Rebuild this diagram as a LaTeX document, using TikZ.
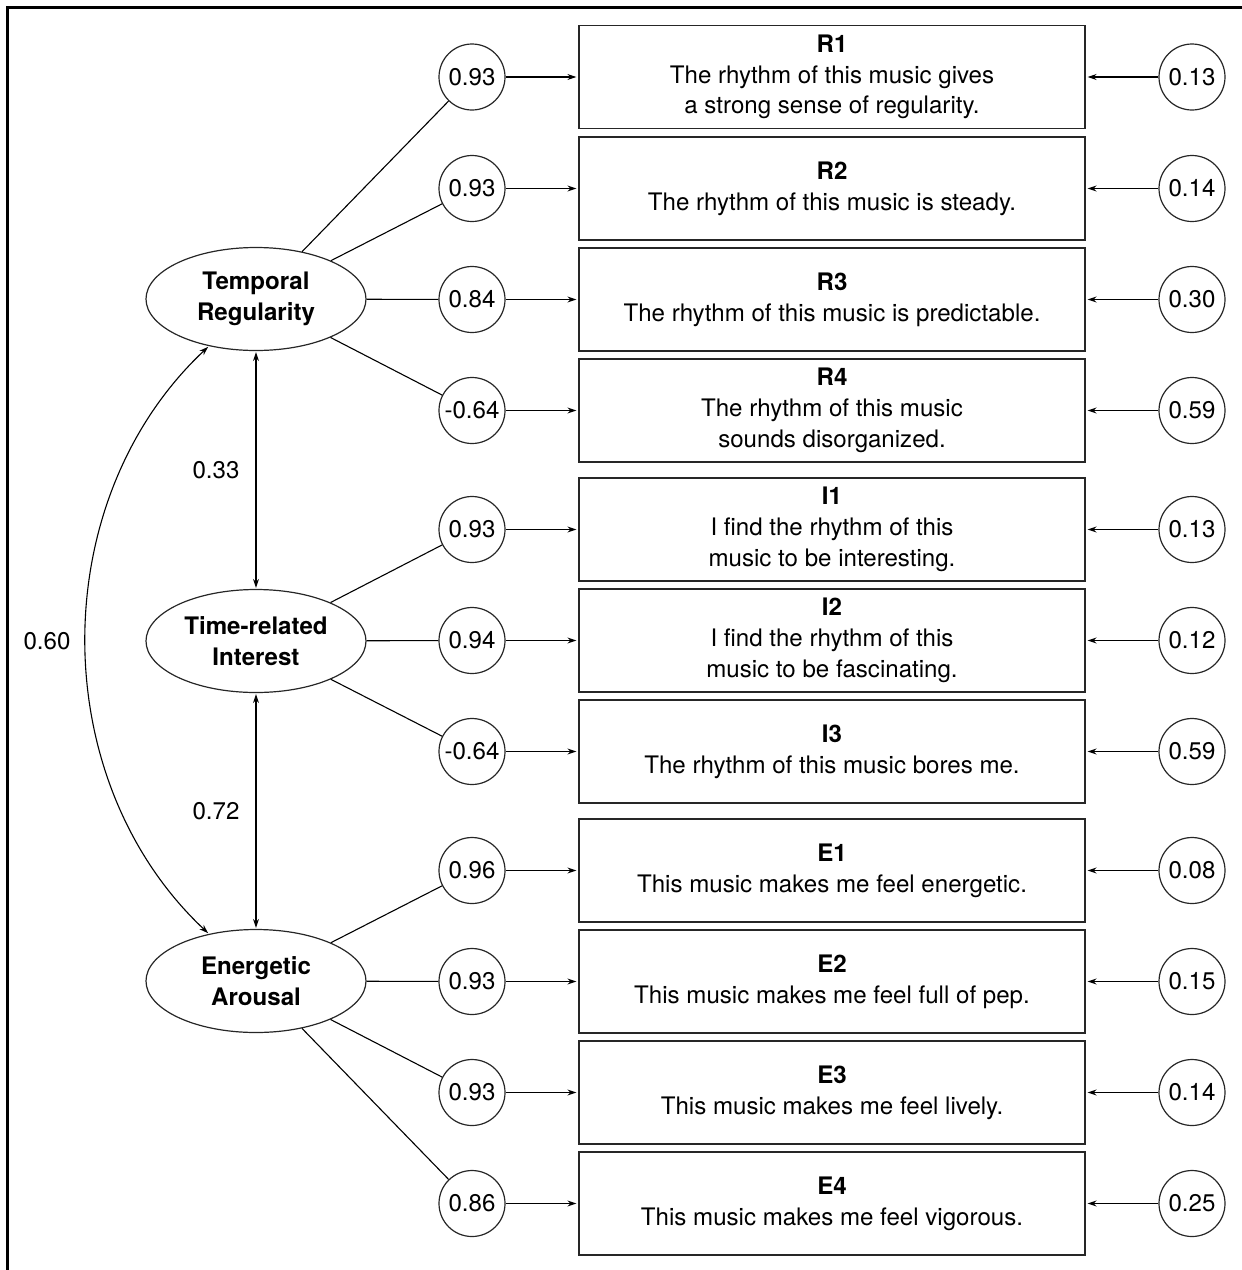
\documentclass[tikz,border=0pt]{standalone}
\usepackage{fontspec}
\setmainfont{TeX Gyre Heros}
\usetikzlibrary{shapes.geometric,arrows.meta}
\begin{document}
\begin{tikzpicture}[x=1pt,y=-1pt,
  every node/.style={font=\fontsize{24.1}{30.7}\selectfont},
  item/.style={draw=black!85, line width=1.3pt, minimum width=506pt, minimum height=103pt, align=center, inner sep=0pt},
  err/.style={draw=black!85, circle, line width=1.2pt, minimum size=66pt, inner sep=0pt},
  latent/.style={draw=black!85, ellipse, line width=1.2pt, minimum width=220pt, minimum height=103pt, inner sep=0pt, align=center, font=\fontsize{24.1}{30.7}\selectfont\bfseries},
  link/.style={line width=1.1pt},
  arr/.style={line width=1.1pt, -{Stealth[length=9pt,width=6pt]}, shorten >=2pt},
  darr/.style={line width=1.1pt, {Stealth[length=9pt,width=6pt]}-{Stealth[length=9pt,width=6pt]}, shorten >=1pt, shorten <=1pt},
  lbl/.style={inner sep=0pt}
]
\useasboundingbox (0,0) rectangle (1242,1270);
\draw[line width=2.4pt] (7.5,1270) -- (7.5,7.5) -- (1242,7.5);

% latent variables
\node[latent] (tr) at (256,299) {Temporal\\Regularity};
\node[latent] (ti) at (256,641) {Time-related\\Interest};
\node[latent] (ea) at (256,981) {Energetic\\Arousal};

% items
\node[item] (R1) at (832,77) {\textbf{R1}\\The rhythm of this music gives\\a strong sense of regularity.};
\node[item] (R2) at (832,188.5) {\textbf{R2}\\The rhythm of this music is steady.};
\node[item] (R3) at (832,299.5) {\textbf{R3}\\The rhythm of this music is predictable.};
\node[item] (R4) at (832,410.5) {\textbf{R4}\\The rhythm of this music\\sounds disorganized.};
\node[item] (I1) at (832,529.5) {\textbf{I1}\\I find the rhythm of this\\music to be interesting.};
\node[item] (I2) at (832,640.5) {\textbf{I2}\\I find the rhythm of this\\music to be fascinating.};
\node[item] (I3) at (832,751.5) {\textbf{I3}\\The rhythm of this music bores me.};
\node[item] (E1) at (832,870.5) {\textbf{E1}\\This music makes me feel energetic.};
\node[item] (E2) at (832,981.5) {\textbf{E2}\\This music makes me feel full of pep.};
\node[item] (E3) at (832,1092.5) {\textbf{E3}\\This music makes me feel lively.};
\node[item] (E4) at (832,1203.5) {\textbf{E4}\\This music makes me feel vigorous.};

% loadings
\node[err] (lR1) at (472,77) {0.93};
\node[err] (lR2) at (472,188.5) {0.93};
\node[err] (lR3) at (472,299.5) {0.84};
\node[err] (lR4) at (472,410.5) {-0.64};
\node[err] (lI1) at (472,529.5) {0.93};
\node[err] (lI2) at (472,640.5) {0.94};
\node[err] (lI3) at (472,751.5) {-0.64};
\node[err] (lE1) at (472,870.5) {0.96};
\node[err] (lE2) at (472,981.5) {0.93};
\node[err] (lE3) at (472,1092.5) {0.93};
\node[err] (lE4) at (472,1203.5) {0.86};

% errors
\node[err] (eR1) at (1192,77) {0.13};
\node[err] (eR2) at (1192,188.5) {0.14};
\node[err] (eR3) at (1192,299.5) {0.30};
\node[err] (eR4) at (1192,410.5) {0.59};
\node[err] (eI1) at (1192,529.5) {0.13};
\node[err] (eI2) at (1192,640.5) {0.12};
\node[err] (eI3) at (1192,751.5) {0.59};
\node[err] (eE1) at (1192,870.5) {0.08};
\node[err] (eE2) at (1192,981.5) {0.15};
\node[err] (eE3) at (1192,1092.5) {0.14};
\node[err] (eE4) at (1192,1203.5) {0.25};

\foreach \n in {R1,R2,R3,R4} {\draw[link] (tr) -- (l\n);}
\foreach \n in {I1,I2,I3} {\draw[link] (ti) -- (l\n);}
\foreach \n in {E1,E2,E3,E4} {\draw[link] (ea) -- (l\n);}
\foreach \n in {R1,R2,R3,R4,I1,I2,I3,E1,E2,E3,E4} {
  \draw[arr] (l\n) -- (\n);
  \draw[arr] (e\n) -- (\n);
}

% correlations
\draw[darr] (tr) -- (ti);
\draw[darr] (ti) -- (ea);
\draw[darr] (tr.225) .. controls (45,500) and (45,780) .. (ea.135);
\node[lbl] (c1) at (216,470) {0.33};
\node[lbl] (c2) at (216,811) {0.72};
\node[lbl] (c3) at (47,641) {0.60};
\end{tikzpicture}
\end{document}
